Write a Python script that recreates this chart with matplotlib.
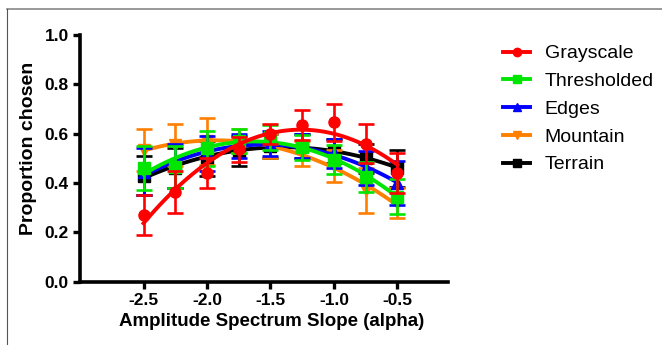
import numpy as np
import matplotlib
matplotlib.use("Agg")
import matplotlib.pyplot as plt
from matplotlib.lines import Line2D

plt.rcParams["font.family"] = ["Liberation Sans", "DejaVu Sans"]

alpha = [-2.5, -2.25, -2.0, -1.75, -1.5, -1.25, -1.0, -0.75, -0.5]

grayscale = [0.27, 0.365, 0.44, 0.537, 0.60, 0.635, 0.646, 0.56, 0.44]
grayscale_err = [0.08, 0.085, 0.06, 0.05, 0.04, 0.06, 0.075, 0.08, 0.08]

thresholded = [0.46, 0.465, 0.54, 0.57, 0.585, 0.545, 0.495, 0.425, 0.345]
thresholded_err = [0.09, 0.085, 0.07, 0.05, 0.05, 0.05, 0.06, 0.06, 0.07]

edges = [0.445, 0.47, 0.52, 0.55, 0.56, 0.55, 0.52, 0.46, 0.40]
edges_err = [0.095, 0.09, 0.07, 0.05, 0.05, 0.05, 0.06, 0.07, 0.09]

mountain = [0.535, 0.555, 0.57, 0.57, 0.55, 0.52, 0.47, 0.37, 0.32]
mountain_err = [0.085, 0.085, 0.095, 0.05, 0.05, 0.05, 0.065, 0.09, 0.06]

terrain = [0.43, 0.46, 0.50, 0.53, 0.55, 0.55, 0.53, 0.50, 0.46]
terrain_err = [0.08, 0.08, 0.07, 0.06, 0.05, 0.05, 0.05, 0.06, 0.075]

series = [
    ("Grayscale", grayscale, grayscale_err, "#ff0000", "o"),
    ("Thresholded", thresholded, thresholded_err, "#00e600", "s"),
    ("Edges", edges, edges_err, "#0000ff", "^"),
    ("Mountain", mountain, mountain_err, "#ff8000", "v"),
    ("Terrain", terrain, terrain_err, "#000000", "s"),
]

fig = plt.figure(figsize=(6.62, 3.45), dpi=100)
ax = fig.add_axes([0.121, 0.1835, 0.556, 0.715])

xs = np.linspace(-2.5, -0.5, 100)
handles = []
# draw black first so the others sit on top, red last
for name, vals, err, col, mk in reversed(series):
    z = 3 + len(handles)
    coef = np.polyfit(alpha, vals, 2)  # quadratic fit like the original
    ax.plot(xs, np.polyval(coef, xs), color=col, lw=2.8, zorder=z)
    ax.errorbar(alpha, vals, yerr=err, fmt=mk, color=col, ms=8,
                elinewidth=1.9, capsize=6, capthick=1.9, zorder=z)
    handles.append(Line2D([], [], color=col, marker=mk, ms=6, lw=2.8, label=name))

ax.set_xlim(-3.0, -0.1)
ax.set_ylim(0, 1.0)
ax.set_xticks([-2.5, -2.0, -1.5, -1.0, -0.5])
ax.set_xticklabels(["-2.5", "-2.0", "-1.5", "-1.0", "-0.5"])
ax.set_yticks([0.0, 0.2, 0.4, 0.6, 0.8, 1.0])
ax.set_yticklabels(["0.0", "0.2", "0.4", "0.6", "0.8", "1.0"])
for lab in ax.get_xticklabels() + ax.get_yticklabels():
    lab.set_fontweight("bold")
    lab.set_fontsize(12.5)
ax.tick_params(direction="out", width=2.4, length=5, pad=3)
ax.spines["top"].set_visible(False)
ax.spines["right"].set_visible(False)
ax.spines["left"].set_linewidth(2.6)
ax.spines["bottom"].set_linewidth(2.6)
ax.set_xlabel("Amplitude Spectrum Slope (alpha)", fontsize=13.5, fontweight="bold")
ax.set_ylabel("Proportion chosen", fontsize=14, fontweight="bold")
ax.xaxis.set_label_coords(0.519, -0.128)
ax.yaxis.set_label_coords(-0.117, 0.54)

ax.legend(handles=handles[::-1], loc="upper left", bbox_to_anchor=(1.149, 0.96),
          borderaxespad=0, borderpad=0,
          frameon=False, fontsize=14, handlelength=1.4, labelspacing=0.52,
          handletextpad=0.75)

# thin grey frame at top and left of the figure
fig.add_artist(Line2D([0.0106, 1.0], [0.974, 0.974], color="#888888", lw=1.2))
fig.add_artist(Line2D([0.0106, 0.0106], [0.0, 0.974], color="#555555", lw=0.8))

fig.savefig("out.png", dpi=100)
